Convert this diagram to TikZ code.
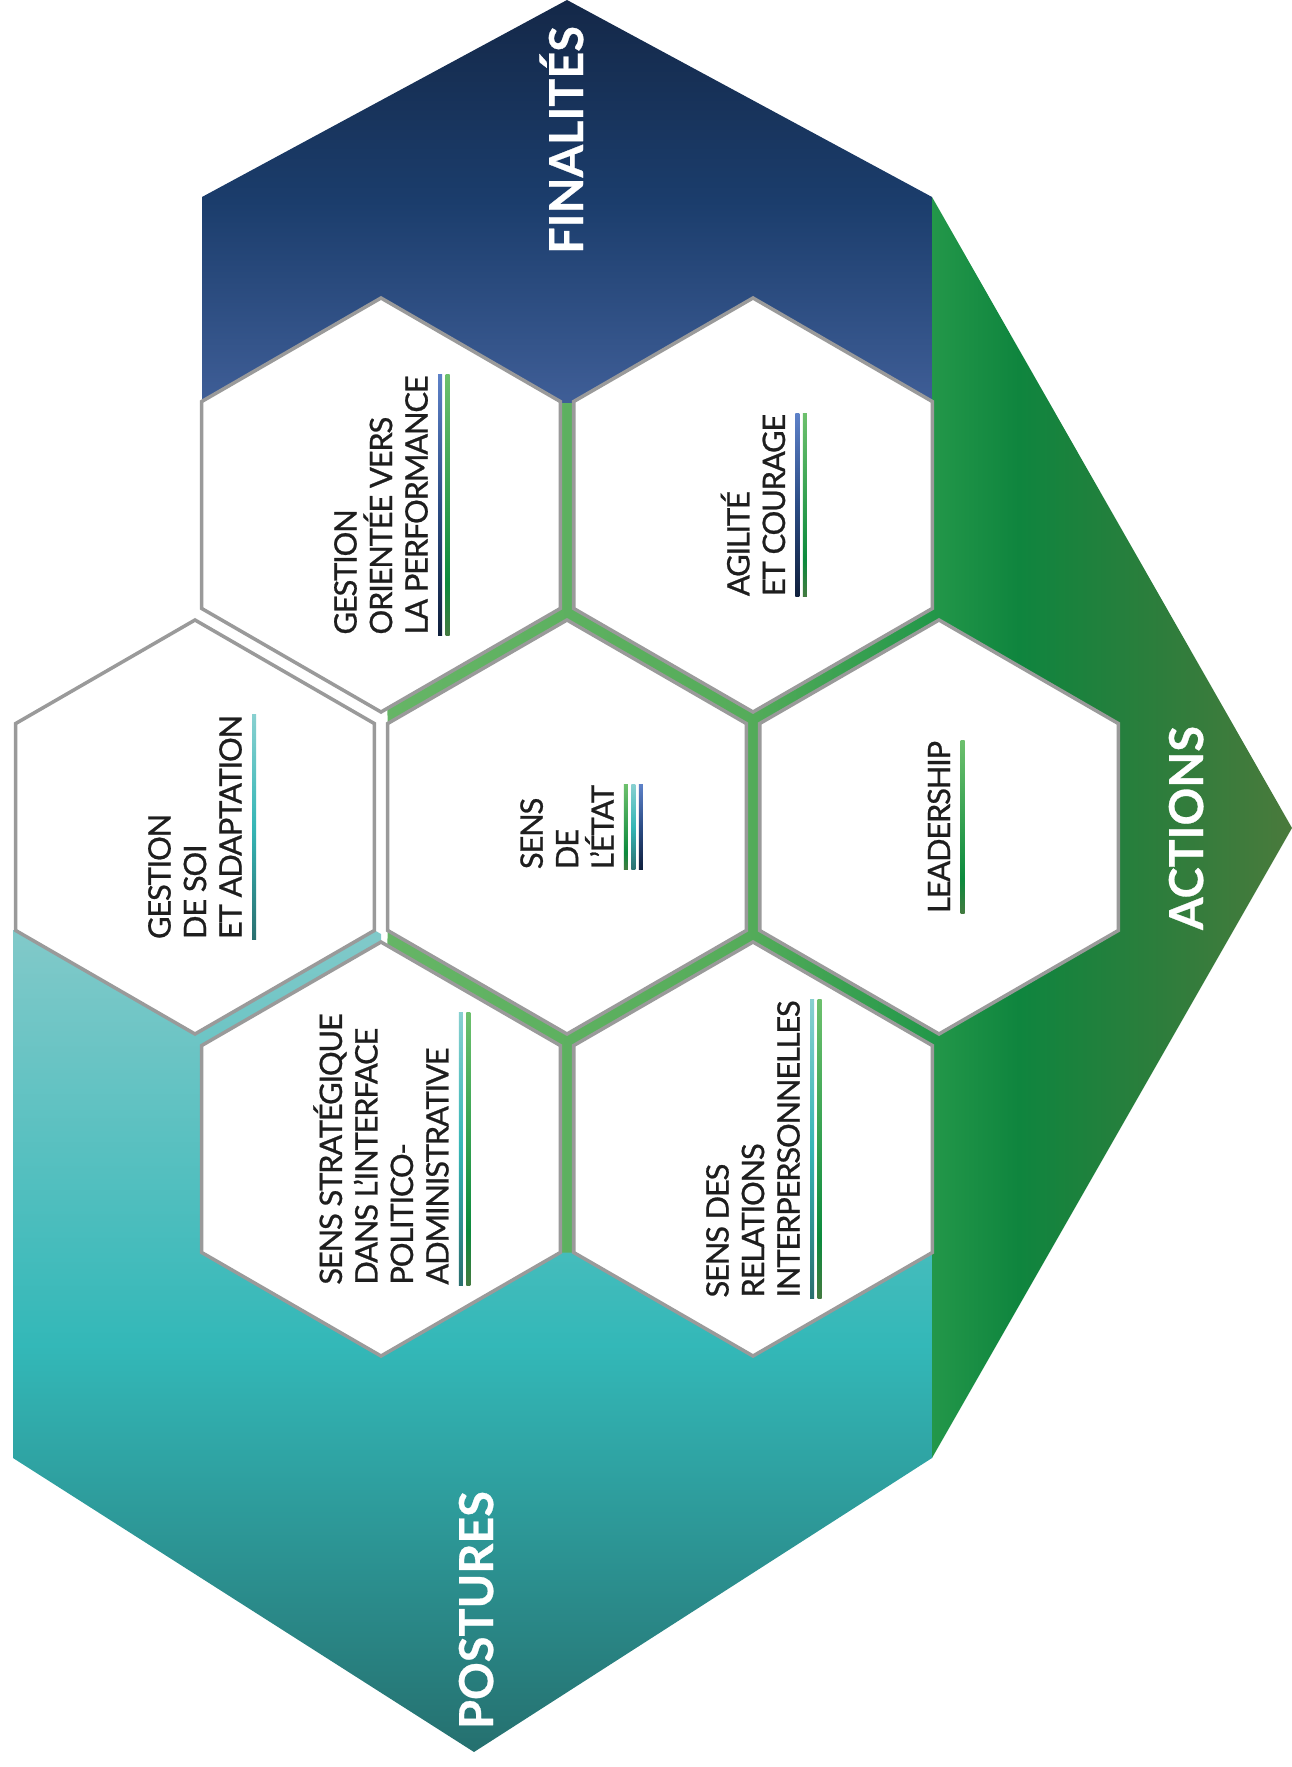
\documentclass[tikz,border=0pt]{standalone}
\usepackage{fontspec}
\setmainfont{Lato}
\newfontfamily\hexfont[FakeBold=0.8,LetterSpace=-4]{Lato}
\newfontfamily\bigfont[FakeBold=0.6]{Lato Bold}
\usetikzlibrary{calc}

\definecolor{hexline}{HTML}{9A9A9A}
\definecolor{inkblack}{HTML}{1E1E1E}
\definecolor{finnavy}{HTML}{142848}
\definecolor{finmid}{HTML}{1B3D6C}
\definecolor{finlight}{HTML}{3F5E97}
\definecolor{actlight}{HTML}{66B566}
\definecolor{actband}{HTML}{55AC5A}
\definecolor{actedge}{HTML}{24984A}
\definecolor{actdeep}{HTML}{0F853E}
\definecolor{actdark}{HTML}{2E7D3C}
\definecolor{actolive}{HTML}{4A7A3C}
\definecolor{postlight}{HTML}{80C9C9}
\definecolor{postmid}{HTML}{33B8B8}
\definecolor{postdark}{HTML}{25706F}

\pgfdeclareverticalshading{finalites}{100bp}{color(0bp)=(finlight); color(25bp)=(finlight); color(50bp)=(finmid); color(75bp)=(finnavy); color(100bp)=(finnavy)}
\pgfdeclarehorizontalshading{actions}{100bp}{color(0bp)=(actlight); color(25bp)=(actlight); color(45bp)=(actband); color(55bp)=(actedge); color(60bp)=(actdeep); color(68bp)=(actdark); color(75bp)=(actolive); color(100bp)=(actolive)}
\pgfdeclareverticalshading{postures}{100bp}{color(0bp)=(postdark); color(25bp)=(postdark); color(47bp)=(postmid); color(69bp)=(postlight); color(100bp)=(postlight)}
\pgfdeclareverticalshading{barblue}{100bp}{color(0bp)=(rgb,255:red,15;green,31;blue,60); color(25bp)=(rgb,255:red,15;green,31;blue,60); color(50bp)=(rgb,255:red,43;green,76;blue,133); color(75bp)=(rgb,255:red,93;green,129;blue,200); color(100bp)=(rgb,255:red,93;green,129;blue,200)}
\pgfdeclareverticalshading{bargreen}{100bp}{color(0bp)=(rgb,255:red,67;green,122;blue,64); color(25bp)=(rgb,255:red,67;green,122;blue,64); color(35bp)=(rgb,255:red,12;green,138;blue,61); color(75bp)=(rgb,255:red,109;green,192;blue,109); color(100bp)=(rgb,255:red,109;green,192;blue,109)}
\pgfdeclareverticalshading{barteal}{100bp}{color(0bp)=(rgb,255:red,42;green,111;blue,111); color(25bp)=(rgb,255:red,42;green,111;blue,111); color(50bp)=(rgb,255:red,53;green,182;blue,182); color(75bp)=(rgb,255:red,136;green,208;blue,208); color(100bp)=(rgb,255:red,136;green,208;blue,208)}

\tikzset{
  hexcell/.style={draw=hexline, line width=1pt, fill=white},
  hexlabel/.style={rotate=90, align=left, inner sep=0pt, text=inkblack, font=\hexfont\fontsize{8.8}{10.1}\selectfont},
  biglabel/.style={rotate=90, anchor=base, inner sep=0pt, text=white, font=\bigfont\fontsize{13.3}{14}\selectfont},
}

\newcommand{\hexa}[1]{\draw[hexcell] ($(#1)+(30:207)$) -- ($(#1)+(90:207)$) -- ($(#1)+(150:207)$) -- ($(#1)+(210:207)$) -- ($(#1)+(270:207)$) -- ($(#1)+(330:207)$) -- cycle;}
\newcommand{\colbar}[3]{\shade[shading=#2] ($(#1.south west)+(#3,0)$) rectangle ($(#1.south east)+(#3+4,0)$);}

\begin{document}
\begin{tikzpicture}[x=0.01cm,y=-0.01cm]
\useasboundingbox (0,0) rectangle (1292,1767);

\coordinate (ulh) at (381,505);
\coordinate (urh) at (753,505);
\coordinate (lfh) at (195,827);
\coordinate (ctr) at (567,827);
\coordinate (rth) at (939,827);
\coordinate (llh) at (381,1149);
\coordinate (lrh) at (753,1149);

\shade[shading=postures] (13,930) -- (13,1458) -- (474,1752) -- (932,1458) -- (932,1252) -- (381,1252) -- (381,934) -- (195,827) -- (16,930) -- cycle;
\shade[shading=actions] (381,403) -- (932,403) -- (932,197) -- (1292,828) -- (932,1458) -- (932,1252.5) -- (381,1252.5) -- (381,1149) -- (387.5,938.5) -- (387.5,715.5) -- (381,505) -- cycle;
\shade[shading=finalites] (202,197) -- (567,0) -- (932,197) -- (932,403) -- (202,403) -- cycle;

\hexa{ulh}
\hexa{urh}
\hexa{lfh}
\hexa{ctr}
\hexa{rth}
\hexa{llh}
\hexa{lrh}

\node[hexlabel] (perf) at (ulh) {GESTION\\ORIENTÉE VERS\\LA PERFORMANCE};
\colbar{perf}{barblue}{9.5}
\colbar{perf}{bargreen}{17}

\node[hexlabel] (agil) at (urh) {AGILITÉ\\ET COURAGE};
\colbar{agil}{barblue}{9.5}
\colbar{agil}{bargreen}{17}

\node[hexlabel] (soi) at (lfh) {GESTION\\DE SOI\\ET ADAPTATION};
\colbar{soi}{barteal}{9.5}

\node[hexlabel] (etat) at (ctr) {SENS\\DE\\L’ÉTAT};
\colbar{etat}{bargreen}{9.5}
\colbar{etat}{barteal}{17}
\colbar{etat}{barblue}{24.5}

\node[hexlabel] (lead) at (rth) {LEADERSHIP};
\colbar{lead}{bargreen}{9.5}

\node[hexlabel] (strat) at (llh) {SENS STRATÉGIQUE\\DANS L’INTERFACE\\POLITICO-\\ADMINISTRATIVE};
\colbar{strat}{barteal}{9.5}
\colbar{strat}{bargreen}{17}

\node[hexlabel] (rel) at (lrh) {SENS DES\\RELATIONS\\INTERPERSONNELLES};
\colbar{rel}{barteal}{9.5}
\colbar{rel}{bargreen}{17}

\node[biglabel] (fin) at (583,140) {FINALITÉS};
\node[biglabel] (act) at (1203,828) {ACTIONS};
\node[biglabel] (pos) at (493,1610) {POSTURES};
\end{tikzpicture}
\end{document}
